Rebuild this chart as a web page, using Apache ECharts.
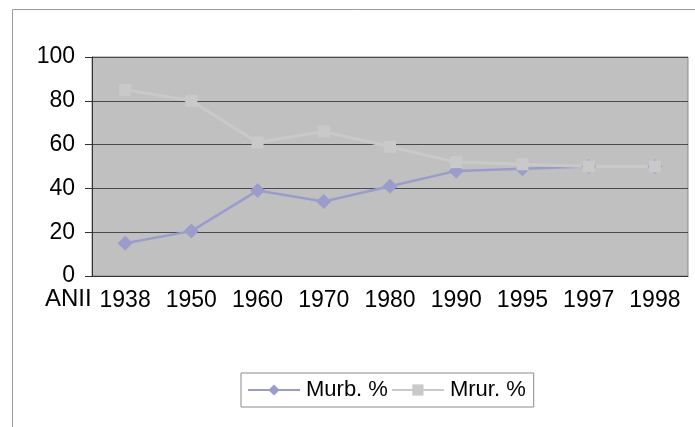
<!DOCTYPE html>
<html lang="ro">
<head>
    <meta charset="UTF-8">
    <script src="https://cdn.jsdelivr.net/npm/echarts@6/dist/echarts.min.js"></script>
    <title>Murb / Mrur</title>
    <style>
        html, body { height: 100%; }
        * { padding: 0; margin: 0; }
        body { background: #fff; }
    </style>
</head>
<body>
    <div id="chart" style="width: 695px;height: 427px;"></div>
    <script>
        // ani
        var years = ['1938', '1950', '1960', '1970', '1980', '1990', '1995', '1997', '1998'];
        // populatia urbana / rurala, %
        var murb = [15, 20.5, 39, 34, 41, 48, 49, 50, 50];
        var mrur = [85, 80, 61, 66, 59, 52, 51, 50, 50];
        var yTicks = [0, 20, 40, 60, 80, 100];

        var font = '"Liberation Sans", Arial, sans-serif';
        var myChart = echarts.init(document.getElementById('chart'));

        var option = {
            backgroundColor: '#ffffff',
            animation: false,
            textStyle: { fontFamily: font },
            graphic: [
                {
                    type: 'rect',
                    shape: { x: 12.5, y: 9.5, width: 700, height: 440 },
                    style: { fill: 'none', stroke: '#9a9a9a', lineWidth: 1 },
                    silent: true
                },
                {
                    type: 'text',
                    left: 45,
                    top: 287,
                    style: { text: 'ANII', fontSize: 24, fontFamily: font, fill: '#000' }
                }
            ],
            grid: {
                left: 92,
                right: 7,
                top: 57,
                bottom: 151,
                show: true,
                backgroundColor: '#c0c0c0',
                borderColor: '#8a8a8a',
                borderWidth: 1
            },
            legend: {
                left: 241,
                top: 373,
                padding: [6, 8, 6, 6],
                backgroundColor: '#fff',
                borderColor: '#8a8a8a',
                borderWidth: 1,
                itemWidth: 52,
                itemHeight: 14,
                itemGap: 3,
                textStyle: { fontSize: 22, color: '#000', fontFamily: font, padding: [0, 0, 0, 1] },
                data: ['Murb. %', 'Mrur. %']
            },
            xAxis: {
                type: 'category',
                data: years,
                boundaryGap: true,
                axisLine: { lineStyle: { color: '#333', width: 1 } },
                axisTick: { length: 7, lineStyle: { color: '#333' } },
                axisLabel: { fontSize: 23, color: '#000', margin: 13, interval: 0 }
            },
            yAxis: {
                type: 'value',
                min: yTicks[0],
                max: yTicks[yTicks.length - 1],
                interval: 20,
                axisLine: { show: true, lineStyle: { color: '#333', width: 1 } },
                axisTick: { show: true, length: 7, lineStyle: { color: '#333' } },
                axisLabel: { fontSize: 23, color: '#000', margin: 17 },
                splitLine: { lineStyle: { color: '#4a4a4a', width: 1 } }
            },
            series: [
                {
                    name: 'Murb. %',
                    type: 'line',
                    data: murb,
                    symbol: 'diamond',
                    symbolSize: 15,
                    lineStyle: { color: '#9c9ccc', width: 2.5 },
                    itemStyle: { color: '#9c9ccc' }
                },
                {
                    name: 'Mrur. %',
                    type: 'line',
                    data: mrur,
                    symbol: 'rect',
                    symbolSize: 12,
                    lineStyle: { color: '#c9c9c9', width: 3 },
                    itemStyle: { color: '#c9c9c9' }
                }
            ]
        };
        myChart.setOption(option);
    </script>
</body>
</html>
